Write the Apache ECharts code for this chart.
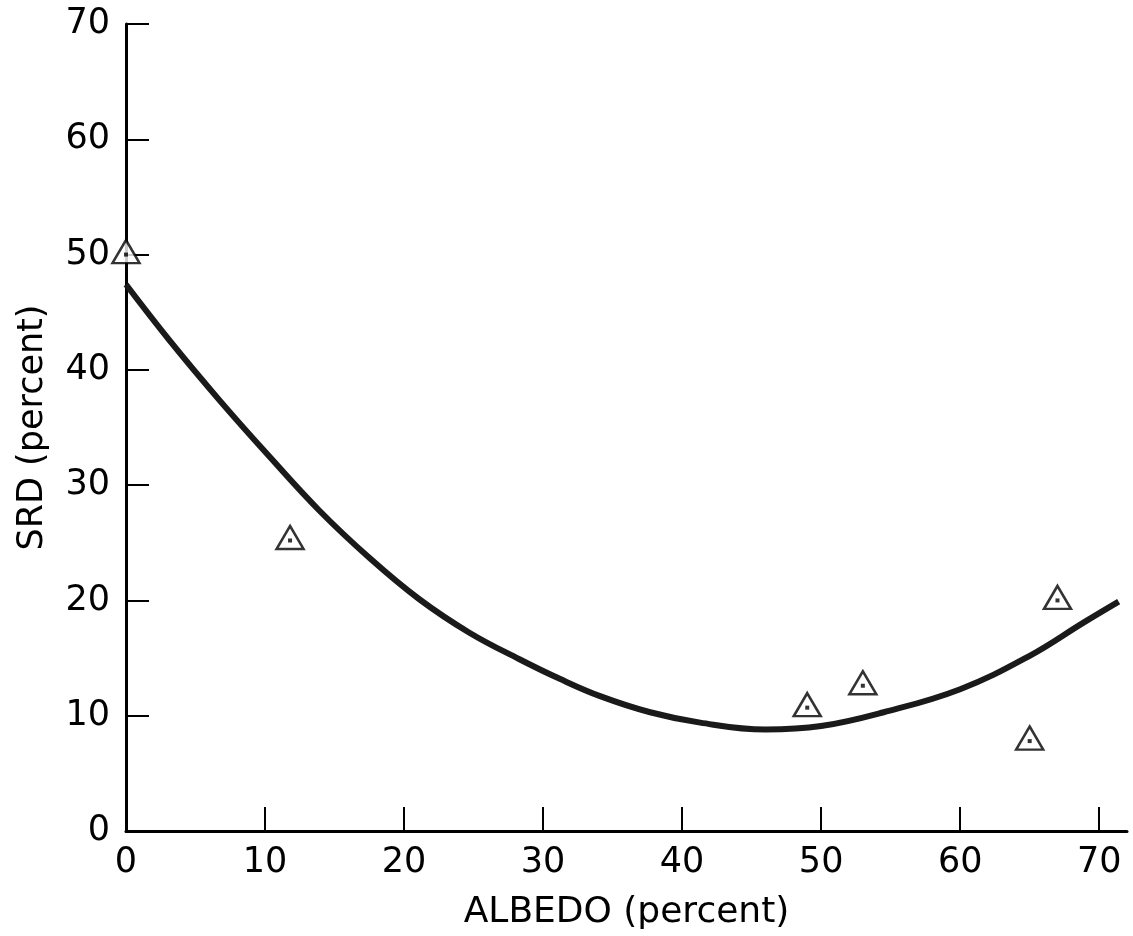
<!DOCTYPE html>
<html>
<head>
<meta charset="utf-8">
<script src="https://cdn.jsdelivr.net/npm/echarts@6/dist/echarts.min.js"></script>
<style>
  html, body { margin: 0; padding: 0; background: #fff; }
  #chart { width: 1133px; height: 936px; }
</style>
</head>
<body>
<div id="chart"></div>
<script>
    // measured points (triangles)
    var albedo = [0, 11.8, 49, 53, 65, 67];
    var srd = [50, 25.2, 10.7, 12.6, 7.8, 20];

    // fitted curve
    var curveX = [0, 3.1, 6.7, 10.3, 13.9, 17.5, 21.1, 24.7, 28.3, 31.2, 34.1, 37.7, 41.3, 46, 50, 54.5, 60, 65, 68.9, 71.4];
    var curveY = [47.4, 42.6, 37.4, 32.5, 27.8, 23.7, 20.1, 17.2, 14.9, 13.2, 11.7, 10.3, 9.4, 8.8, 9.1, 10.3, 12.3, 15.2, 18.1, 19.9];

    var tickValues = [0, 10, 20, 30, 40, 50, 60, 70];

    function pairs(xs, ys) {
        let out = [];
        for (let i = 0; i < xs.length; i++) {
            out.push([xs[i], ys[i]]);
        }
        return out;
    }

    let font = 'DejaVu Sans';
    let myChart = echarts.init(document.getElementById('chart'));
    myChart.setOption({
        backgroundColor: '#fff',
        animation: false,
        grid: {
            left: 126,
            right: 6,
            top: 24,
            bottom: 104
        },
        xAxis: {
            type: 'value',
            min: 0,
            max: 72,
            name: 'ALBEDO (percent)',
            nameLocation: 'middle',
            nameGap: 64,
            nameTextStyle: {color: '#000', fontSize: 36, fontFamily: font},
            splitLine: {show: false},
            axisLine: {lineStyle: {color: '#000', width: 3}},
            axisTick: {
                inside: true,
                length: 24,
                customValues: tickValues,
                lineStyle: {color: '#000', width: 2}
            },
            axisLabel: {
                customValues: tickValues,
                margin: 14,
                color: '#000',
                fontSize: 35,
                fontFamily: font
            }
        },
        yAxis: {
            type: 'value',
            min: 0,
            max: 70,
            interval: 10,
            name: 'SRD (percent)',
            nameLocation: 'middle',
            nameGap: 76,
            nameTextStyle: {color: '#000', fontSize: 35, fontFamily: font},
            splitLine: {show: false},
            axisLine: {lineStyle: {color: '#000', width: 3}},
            axisTick: {
                inside: true,
                length: 23,
                lineStyle: {color: '#000', width: 2}
            },
            axisLabel: {
                margin: 16,
                color: '#000',
                fontSize: 35,
                fontFamily: font
            }
        },
        series: [
            {
                type: 'line',
                data: pairs(curveX, curveY),
                smooth: 0.4,
                showSymbol: false,
                lineStyle: {color: '#1a1a1a', width: 6}
            },
            {
                type: 'scatter',
                data: pairs(albedo, srd),
                clip: false,
                symbol: 'triangle',
                symbolSize: [27, 23],
                symbolOffset: [0, -3],
                itemStyle: {color: '#fff', borderColor: '#000', borderWidth: 2.5}
            },
            {
                type: 'scatter',
                data: pairs(albedo, srd),
                clip: false,
                symbol: 'rect',
                symbolSize: 4,
                itemStyle: {color: '#000'}
            }
        ]
    });
</script>
</body>
</html>
